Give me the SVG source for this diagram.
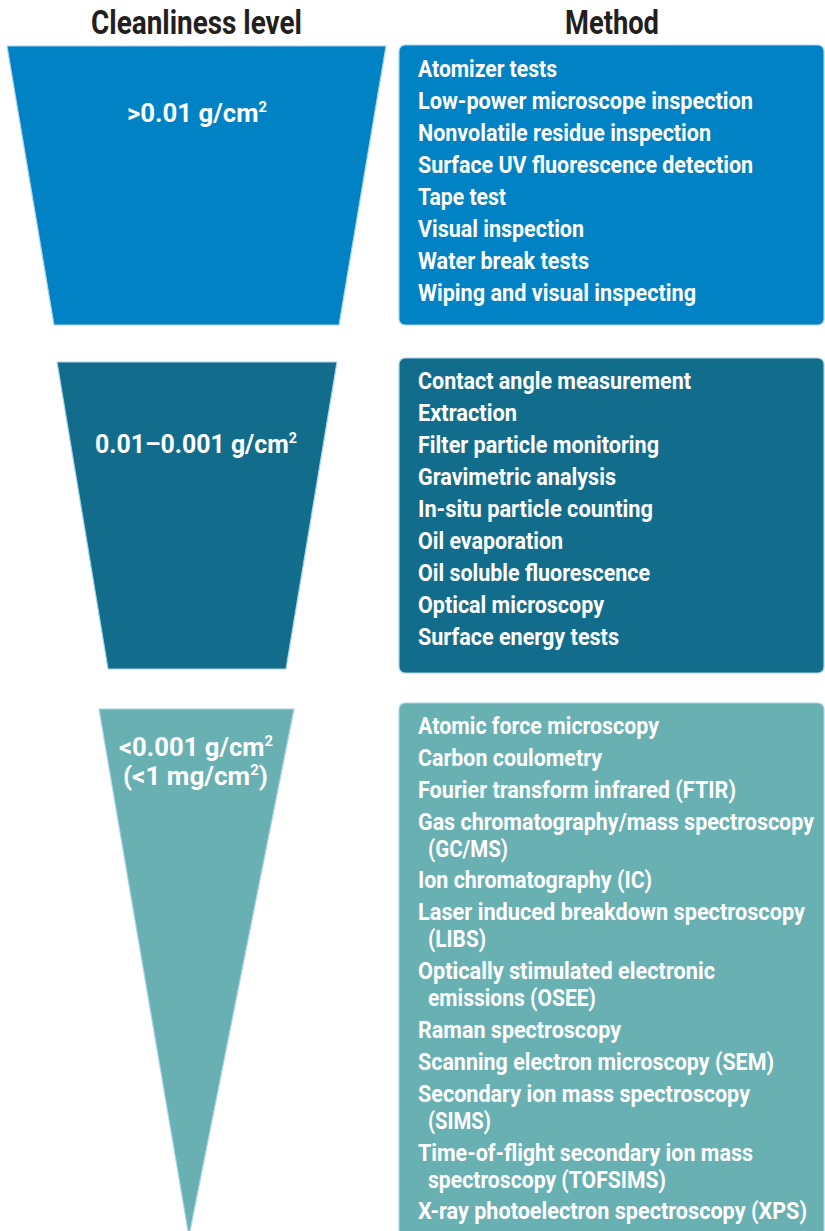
<svg xmlns="http://www.w3.org/2000/svg" width="825" height="1231" viewBox="0 0 825 1231">
<style>
.hdr{font-family:Roboto,"Liberation Sans",sans-serif;font-weight:700;font-size:33px;fill:#231f20}
.lvl{font-family:Roboto,"Liberation Sans",sans-serif;font-weight:700;font-size:26px;fill:#ffffff}
.it{font-family:Roboto,"Liberation Sans",sans-serif;font-weight:700;font-size:23px;fill:#ffffff}
.sup{font-size:15px}
.edge{stroke:#a9d4ea;stroke-width:1.2}
</style>
<rect width="825" height="1231" fill="#ffffff"/>
<g id="headers">
<text class="hdr" x="91" y="34" textLength="211" lengthAdjust="spacingAndGlyphs">Cleanliness level</text>
<text class="hdr" x="565" y="34" textLength="94" lengthAdjust="spacingAndGlyphs">Method</text>
</g>
<g id="level1">
<polygon class="edge" points="7,46 386,46 339,325 54,325" fill="#0082c4"/>
<text class="lvl" x="127" y="122" textLength="140" lengthAdjust="spacingAndGlyphs">&gt;0.01 g/cm<tspan class="sup" dy="-10">2</tspan></text>
</g>
<g id="methods1">
<rect class="edge" x="399" y="45" width="425" height="280" rx="6" fill="#0082c4"/>
<text class="it" x="418" y="77" textLength="139" lengthAdjust="spacingAndGlyphs">Atomizer tests</text>
<text class="it" x="418" y="109" textLength="335" lengthAdjust="spacingAndGlyphs">Low-power microscope inspection</text>
<text class="it" x="418" y="141" textLength="293" lengthAdjust="spacingAndGlyphs">Nonvolatile residue inspection</text>
<text class="it" x="418" y="173" textLength="335" lengthAdjust="spacingAndGlyphs">Surface UV fluorescence detection</text>
<text class="it" x="418" y="205" textLength="88" lengthAdjust="spacingAndGlyphs">Tape test</text>
<text class="it" x="418" y="237" textLength="166" lengthAdjust="spacingAndGlyphs">Visual inspection</text>
<text class="it" x="418" y="269" textLength="171" lengthAdjust="spacingAndGlyphs">Water break tests</text>
<text class="it" x="418" y="301" textLength="278" lengthAdjust="spacingAndGlyphs">Wiping and visual inspecting</text>
</g>
<g id="level2">
<polygon class="edge" points="57,362 337,362 286,669 108,669" fill="#126d8d"/>
<text class="lvl" x="95" y="453" textLength="202" lengthAdjust="spacingAndGlyphs">0.01–0.001 g/cm<tspan class="sup" dy="-10">2</tspan></text>
</g>
<g id="methods2">
<rect class="edge" x="399" y="358" width="425" height="315" rx="6" fill="#126d8d"/>
<text class="it" x="418" y="389" textLength="273" lengthAdjust="spacingAndGlyphs">Contact angle measurement</text>
<text class="it" x="418" y="421" textLength="99" lengthAdjust="spacingAndGlyphs">Extraction</text>
<text class="it" x="418" y="453" textLength="241" lengthAdjust="spacingAndGlyphs">Filter particle monitoring</text>
<text class="it" x="418" y="485" textLength="198" lengthAdjust="spacingAndGlyphs">Gravimetric analysis</text>
<text class="it" x="418" y="517" textLength="235" lengthAdjust="spacingAndGlyphs">In-situ particle counting</text>
<text class="it" x="418" y="549" textLength="145" lengthAdjust="spacingAndGlyphs">Oil evaporation</text>
<text class="it" x="418" y="581" textLength="232" lengthAdjust="spacingAndGlyphs">Oil soluble fluorescence</text>
<text class="it" x="418" y="613" textLength="186" lengthAdjust="spacingAndGlyphs">Optical microscopy</text>
<text class="it" x="418" y="645" textLength="201" lengthAdjust="spacingAndGlyphs">Surface energy tests</text>
</g>
<g id="level3">
<polygon class="edge" points="99,709 294,709 190,1231 188,1231" fill="#69b0b3"/>
<text class="lvl" x="119" y="756" textLength="154" lengthAdjust="spacingAndGlyphs">&lt;0.001 g/cm<tspan class="sup" dy="-10">2</tspan></text>
<text class="lvl" x="123" y="785" textLength="145" lengthAdjust="spacingAndGlyphs">(&lt;1 mg/cm<tspan class="sup" dy="-10">2</tspan><tspan dy="10">)</tspan></text>
</g>
<g id="methods3">
<rect class="edge" x="399" y="703" width="425" height="540" rx="6" fill="#69b0b3"/>
<text class="it" x="418" y="734" textLength="241" lengthAdjust="spacingAndGlyphs">Atomic force microscopy</text>
<text class="it" x="418" y="766" textLength="184" lengthAdjust="spacingAndGlyphs">Carbon coulometry</text>
<text class="it" x="418" y="798" textLength="318" lengthAdjust="spacingAndGlyphs">Fourier transform infrared (FTIR)</text>
<text class="it" x="418" y="830" textLength="396" lengthAdjust="spacingAndGlyphs">Gas chromatography/mass spectroscopy</text>
<text class="it" x="428" y="857" textLength="80" lengthAdjust="spacingAndGlyphs">(GC/MS)</text>
<text class="it" x="418" y="888" textLength="234" lengthAdjust="spacingAndGlyphs">Ion chromatography (IC)</text>
<text class="it" x="418" y="920" textLength="387" lengthAdjust="spacingAndGlyphs">Laser induced breakdown spectroscopy</text>
<text class="it" x="428" y="947" textLength="58" lengthAdjust="spacingAndGlyphs">(LIBS)</text>
<text class="it" x="418" y="979" textLength="297" lengthAdjust="spacingAndGlyphs">Optically stimulated electronic</text>
<text class="it" x="428" y="1006" textLength="168" lengthAdjust="spacingAndGlyphs">emissions (OSEE)</text>
<text class="it" x="418" y="1038" textLength="203" lengthAdjust="spacingAndGlyphs">Raman spectroscopy</text>
<text class="it" x="418" y="1070" textLength="356" lengthAdjust="spacingAndGlyphs">Scanning electron microscopy (SEM)</text>
<text class="it" x="418" y="1102" textLength="332" lengthAdjust="spacingAndGlyphs">Secondary ion mass spectroscopy</text>
<text class="it" x="428" y="1129" textLength="63" lengthAdjust="spacingAndGlyphs">(SIMS)</text>
<text class="it" x="418" y="1161" textLength="335" lengthAdjust="spacingAndGlyphs">Time-of-flight secondary ion mass</text>
<text class="it" x="428" y="1188" textLength="238" lengthAdjust="spacingAndGlyphs">spectroscopy (TOFSIMS)</text>
<text class="it" x="418" y="1219" textLength="389" lengthAdjust="spacingAndGlyphs">X-ray photoelectron spectroscopy (XPS)</text>
</g>
</svg>
